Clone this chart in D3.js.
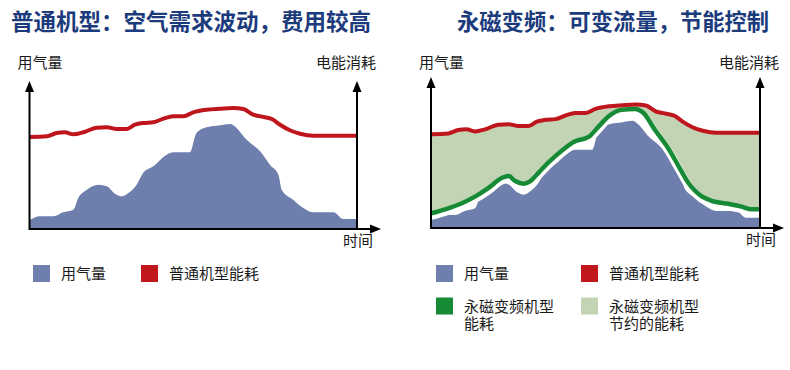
<!DOCTYPE html>
<html>
<head>
<meta charset="utf-8">
<script src="https://cdn.jsdelivr.net/npm/d3@7"></script>
<style>
  html, body { margin: 0; padding: 0; background: #fff; }
  svg text { font-family: "Noto Sans CJK SC", "Noto Sans", sans-serif; }
  svg text.lg { font-family: "Liberation Sans", "Noto Sans CJK SC", sans-serif; }
</style>
</head>
<body>
<div id="chart"></div>
<script>
// ---------- data (time 0..100, level 0..148) ----------
const titles = ["普通机型：空气需求波动，费用较高", "永磁变频：可变流量，节能控制"];
const yLabel = "用气量", y2Label = "电能消耗", xLabel = "时间";

const airDemand = [
  [0, 8.7], [3.2, 12.7], [7.3, 12.7], [10.3, 16.7], [13.4, 19.3], [14.9, 31], [17.5, 39.3],
  [21, 44.3], [23.6, 42.7], [26.1, 35.3], [28.2, 32.7], [30.2, 36], [32.7, 44.3], [34.7, 56],
  [37.8, 62.7], [41.9, 74.3], [43.9, 76.7], [49, 76.7], [51, 96], [54.1, 101.7], [58.2, 103.7],
  [61.2, 105], [62.2, 103.7], [66.3, 89.3], [70.4, 77.7], [73.4, 64.3], [76, 54.3], [77, 39.3],
  [80.5, 29.3], [83.6, 21], [86.7, 16.7], [92.8, 16.7], [95.8, 10], [100, 10]
];
const fixedPower = [
  [0, 92], [5.3, 92.7], [8.3, 96], [10.8, 96.7], [13.4, 94.7], [16.4, 96.7], [20.5, 101.3],
  [23.6, 101.7], [26.6, 100], [29.7, 100], [32.2, 104.3], [34.7, 106], [37.8, 106.7], [40.9, 110.3],
  [43.9, 112.7], [47, 112.7], [50, 116.7], [54.1, 119.3], [58.2, 120.3], [62.2, 121], [65.3, 120],
  [68.3, 114.3], [71.5, 112], [74, 110], [76.5, 104.3], [79.5, 98.7], [82.6, 95.3], [86.7, 93.3],
  [100, 93.3]
];
const vsdPower = [
  [0, 14.3], [4.3, 18.3], [9.4, 24.3], [13.5, 31], [17.5, 39.3], [21.6, 49.3], [23.6, 51],
  [25.6, 46], [28.1, 43.3], [30.2, 46], [32.7, 54.3], [35.7, 64.3], [39.8, 76], [43.8, 85],
  [47.9, 89.3], [50.9, 99.3], [53.9, 109.3], [58, 116], [62, 116.7], [64.6, 112.7], [68.1, 96],
  [72.2, 77.7], [75.2, 61], [78.2, 44.3], [82.3, 31], [85.3, 26.7], [90.4, 23.7], [94.4, 21],
  [97.5, 18.3], [100, 18.3]
];

const legendLeft = [
  { label: ["用气量"], color: "#6f7fad" },
  { label: ["普通机型能耗"], color: "#c0171d" }
];
const legendRight = [
  { label: ["用气量"], color: "#6f7fad" },
  { label: ["普通机型能耗"], color: "#c0171d" },
  { label: ["永磁变频机型", "能耗"], color: "#178a36" },
  { label: ["永磁变频机型", "节约的能耗"], color: "#c3d4b5" }
];

const C = { blue: "#6f7fad", red: "#be161c", green: "#178a36", light: "#c3d4b5", title: "#1b3b7c", text: "#1a1a1a" };

const svg = d3.select("#chart").append("svg").attr("width", 790).attr("height", 370);

function panel(opt) {
  const g = svg.append("g");
  const x = d3.scaleLinear().domain([0, 100]).range([opt.x0, opt.x1]);
  const y = d3.scaleLinear().domain([0, 148]).range([opt.yb, opt.yt]);
  const curve = d3.curveMonotoneX;
  const line = d3.line().x(d => x(d[0])).y(d => y(d[1])).curve(curve);
  const area = d3.area().x(d => x(d[0])).y0(y(0)).y1(d => y(d[1])).curve(curve);

  // title
  g.append("text").attr("x", opt.tx).attr("y", 30)
    .attr("fill", C.title).style("font-size", opt.tsize + "px").style("font-weight", 700)
    .text(opt.title);

  if (opt.vsd) {
    // saved energy band: under red, then erase under green
    g.append("path").datum(fixedPower).attr("d", area).attr("fill", C.light);
    g.append("path").datum(vsdPower).attr("d", area).attr("fill", "#fff");
  }
  g.append("path").datum(airDemand).attr("d", area).attr("fill", C.blue);
  if (opt.vsd) {
    g.append("path").datum(vsdPower).attr("d", line).attr("fill", "none")
      .attr("stroke", "#fff").attr("stroke-width", 8).attr("transform", "translate(0,2.5)");
    g.append("path").datum(vsdPower).attr("d", line).attr("fill", "none")
      .attr("stroke", C.green).attr("stroke-width", 4.5);
  }
  g.append("path").datum(fixedPower).attr("d", line).attr("fill", "none")
    .attr("stroke", C.red).attr("stroke-width", 4);

  // axes with arrowheads
  const xa = x(0), xb = x(100), yb = y(0), top = opt.yt;
  const ax = g.append("g").attr("stroke", "#000").attr("stroke-width", 2).attr("fill", "none");
  ax.append("line").attr("x1", xa).attr("x2", xa).attr("y1", yb + 1).attr("y2", top + 8);
  ax.append("line").attr("x1", xb).attr("x2", xb).attr("y1", yb + 1).attr("y2", top + 8);
  ax.append("line").attr("x1", xa).attr("x2", opt.xArrow - 8).attr("y1", yb).attr("y2", yb);
  const tri = (pts) => g.append("polygon").attr("points", pts.map(p => p.join(",")).join(" ")).attr("fill", "#000");
  tri([[xa, top], [xa - 4.5, top + 11], [xa + 4.5, top + 11]]);
  tri([[xb, top], [xb - 4.5, top + 11], [xb + 4.5, top + 11]]);
  tri([[opt.xArrow, yb], [opt.xArrow - 11, yb - 4.5], [opt.xArrow - 11, yb + 4.5]]);

  const lab = (t, xx, yy, anchor) => g.append("text").attr("x", xx).attr("y", yy)
    .attr("text-anchor", anchor).attr("fill", C.text).style("font-size", "15px").text(t);
  lab(yLabel, xa - 12, 68, "start");
  lab(y2Label, xb + 19, 68, "end");
  lab(xLabel, xb + 1, opt.yb + 17, "middle");

  // legend
  const cols = [opt.lx, opt.lx + opt.lgap];
  opt.legend.forEach((it, i) => {
    const lx = cols[i % 2], ly = 265 + Math.floor(i / 2) * 32.5;
    g.append("rect").attr("x", lx).attr("y", ly).attr("width", 17).attr("height", 17).attr("fill", it.color);
    const t = g.append("text").attr("class", "lg").attr("x", lx + 28).attr("y", ly + 14)
      .attr("fill", C.text).style("font-size", "15px");
    it.label.forEach((s, k) => {
      t.append("tspan").attr("x", lx + 28).attr("dy", k ? 17.5 : 0).text(s);
    });
  });
}

panel({ title: titles[0], tx: 11, tsize: 22.5, x0: 29.5, x1: 357, yb: 229, yt: 81, xArrow: 381, lx: 33, lgap: 108, legend: legendLeft, vsd: false });
panel({ title: titles[1], tx: 457, tsize: 22.3, x0: 431, x1: 760, yb: 228, yt: 77, xArrow: 784, lx: 436, lgap: 145, legend: legendRight, vsd: true });
</script>
</body>
</html>
